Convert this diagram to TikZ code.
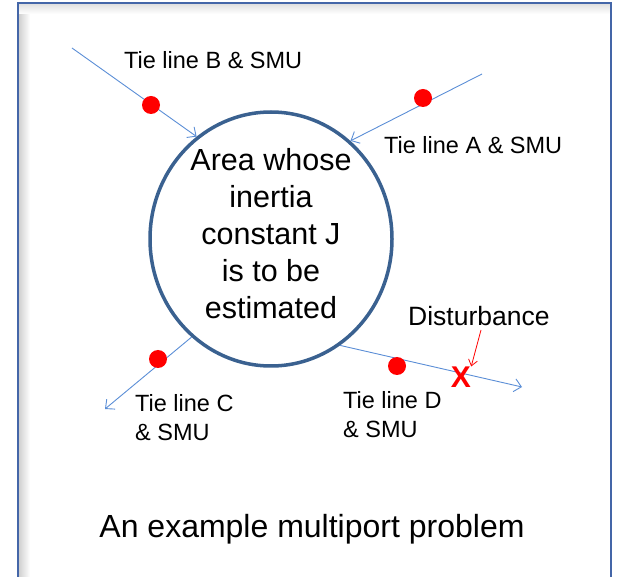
\documentclass[tikz,border=0pt]{standalone}
\usepackage{fontspec}
\setmainfont{Liberation Sans}
\usepackage{tikz}
\usetikzlibrary{arrows.meta, shapes.geometric, positioning, calc}

\definecolor{tieblue}{HTML}{5B8ED6}
\definecolor{areablue}{HTML}{3A6190}
\definecolor{framebl}{HTML}{4466A8}

\begin{document}
\begin{tikzpicture}[x=1pt, y=-1pt,
    tie/.style={tieblue, line width=0.9pt, -{Straight Barb[length=7pt, width=13pt]}},
    pmu/.style={circle, fill=red, inner sep=0pt, minimum size=18pt},
    lbl/.style={inner sep=0pt, align=left, font=\fontsize{23.5}{29}\selectfont},
  ]
  \useasboundingbox (0,0) rectangle (619,577);

  % Cadre avec ombre
  \shade[left color=black!18, right color=white] (19,4) rectangle (30,577);
  \shade[top color=black!12, bottom color=white] (19,4) rectangle (611,14);
  \draw[framebl, line width=2pt] (18,590) -- (18,3) -- (611,3) -- (611,590);

  % Zone
  \node[draw=areablue, line width=3.5pt, ellipse, minimum width=242pt,
        minimum height=254pt, inner sep=0pt] (area) at (271,239) {};
  \node[inner sep=0pt, align=center,
        font=\fontsize{30.5}{37}\selectfont] (areatxt) at (271,234)
    {Area whose\\inertia\\constant J\\is to be\\estimated};

  % Lignes d'interconnexion
  \coordinate (bstart) at (72,48);
  \coordinate (astart) at (482,74);
  \coordinate (cend) at (105,409);
  \coordinate (dend) at (522,387);
  \draw[tie] (bstart) -- (area.126.9);
  \draw[tie] (astart) -- (area.51.9);
  \draw[tie] (area.231.1) -- (cend);
  \draw[tie] (area.303.2) -- (dend);

  % Points de mesure
  \node[pmu] (pmub) at (151,105) {};
  \node[pmu] (pmua) at (423,98) {};
  \node[pmu] (pmuc) at (158,359) {};
  \node[pmu] (pmud) at (397,366) {};

  % Etiquettes
  \node[lbl, anchor=west] (lblb) at (124,60) {Tie line B \& SMU};
  \node[lbl, anchor=west] (lbla) at (384,145) {Tie line A \& SMU};
  \node[lbl, anchor=west] (lblc) at (135,418) {Tie line C\\\& SMU};
  \node[lbl, anchor=west] (lbld) at (343,415) {Tie line D\\\& SMU};

  % Perturbation
  \node[inner sep=0pt, red, font=\fontsize{30}{30}\selectfont\bfseries] (xmark) at (461,377) {X};
  \node[lbl, anchor=west, font=\fontsize{26.5}{30}\selectfont] (dist) at (408,316) {Disturbance};
  \coordinate (dtail) at (481,330);
  \draw[red, line width=0.8pt, -{Straight Barb[length=6pt, width=9pt]}]
    (dtail) -- (xmark.north east);

  % Titre
  \node[inner sep=0pt, font=\fontsize{32}{38}\selectfont] (title) at (312,529)
    {An example multiport problem};
\end{tikzpicture}
\end{document}
